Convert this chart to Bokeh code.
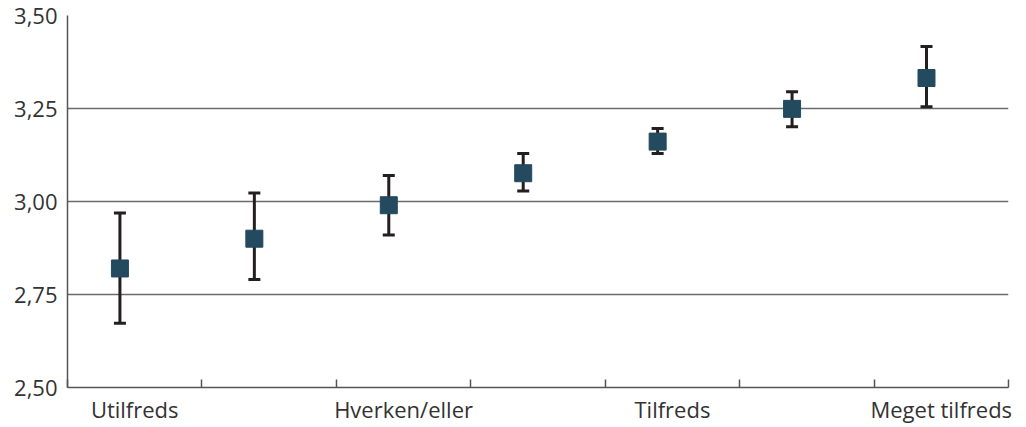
from bokeh.plotting import figure
from bokeh.models import ColumnDataSource, FixedTicker, Whisker, TeeHead
from bokeh.transform import dodge
from bokeh.embed import file_html
from bokeh.resources import INLINE

categories = ["Utilfreds", "", "Hverken/eller", "", "Tilfreds", "", "Meget tilfreds"]
means = [2.82, 2.90, 2.99, 3.076, 3.161, 3.249, 3.332]
upper = [2.969, 3.023, 3.070, 3.129, 3.196, 3.295, 3.417]
lower = [2.673, 2.790, 2.910, 3.028, 3.129, 3.201, 3.255]
y_ticks = [2.50, 2.75, 3.00, 3.25, 3.50]

xs = [i + 0.5 for i in range(len(categories))]
src = ColumnDataSource(dict(x=xs, m=means, up=upper, lo=lower))

p = figure(frame_width=941, frame_height=372, x_range=(0, len(categories)), y_range=(2.5, 3.5),
           output_backend="svg", toolbar_location=None,
           min_border_left=67, min_border_right=16, min_border_top=15, min_border_bottom=30)
p.outline_line_color = None
p.background_fill_color = "white"

p.square(x=dodge("x", -0.11, range=p.x_range), y="m", source=src, size=17,
         fill_color="#234a5f", line_color="#234a5f")
w = Whisker(base=dodge("x", -0.11, range=p.x_range), upper="up", lower="lo", source=src,
            line_color="#231f20", line_width=3,
            upper_head=TeeHead(size=12, line_color="#231f20", line_width=3),
            lower_head=TeeHead(size=12, line_color="#231f20", line_width=3))
p.add_layout(w)

font = "Open Sans"
label_ticks = [xs[i] for i, c in enumerate(categories) if c]
p.xaxis.ticker = FixedTicker(ticks=label_ticks, minor_ticks=list(range(len(categories) + 1)))
p.xaxis.major_label_overrides = {xs[i]: c for i, c in enumerate(categories) if c}
p.xaxis.major_tick_in = 0
p.xaxis.major_tick_out = 0
p.xaxis.minor_tick_in = 8
p.xaxis.minor_tick_out = 0
p.xaxis.minor_tick_line_color = "#555555"
p.xaxis.minor_tick_line_width = 1.5
p.xaxis.axis_line_color = "#555555"
p.xaxis.axis_line_width = 1.5
p.xaxis.major_label_standoff = 6

p.yaxis.ticker = FixedTicker(ticks=y_ticks)
p.yaxis.major_label_overrides = {t: f"{t:.2f}".replace(".", ",") for t in y_ticks}
p.yaxis.major_tick_in = 0
p.yaxis.major_tick_out = 0
p.yaxis.minor_tick_line_color = None
p.yaxis.axis_line_color = "#555555"
p.yaxis.axis_line_width = 1.5
p.yaxis.major_label_standoff = 10

for ax in (p.xaxis, p.yaxis):
    ax.major_label_text_font = font
    ax.major_label_text_font_size = "22px"
    ax.major_label_text_color = "#333333"

p.xgrid.grid_line_color = None
p.ygrid.ticker = FixedTicker(ticks=y_ticks)
p.ygrid.grid_line_color = "#6b6b6b"
p.ygrid.grid_line_width = 1.5

open("out.html", "w").write(file_html(p, INLINE))
